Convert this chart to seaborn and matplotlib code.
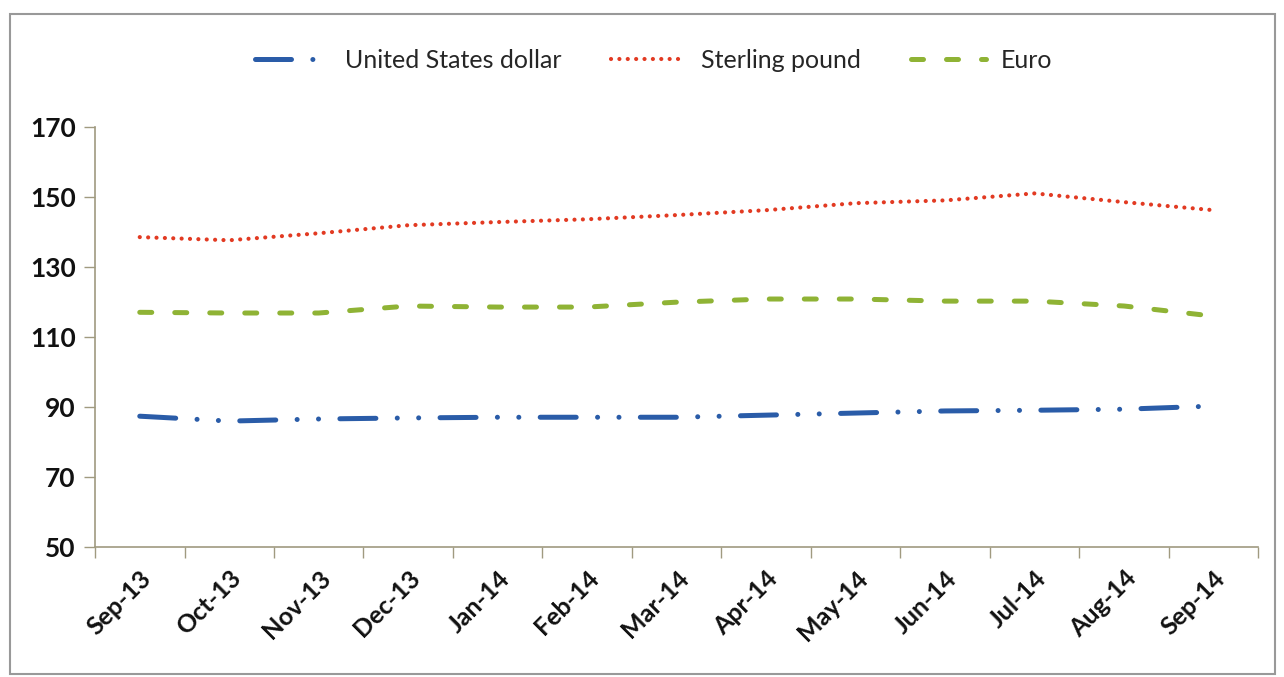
import matplotlib
matplotlib.use("Agg")
import matplotlib.pyplot as plt
import seaborn as sns
import pandas as pd
import numpy as np
from matplotlib.patches import Rectangle

months = ["Sep-13", "Oct-13", "Nov-13", "Dec-13", "Jan-14", "Feb-14", "Mar-14",
          "Apr-14", "May-14", "Jun-14", "Jul-14", "Aug-14", "Sep-14"]
usd = [87.4, 86.0, 86.6, 86.9, 87.1, 87.1, 87.1, 87.7, 88.3, 88.9, 89.1, 89.4, 90.3]
gbp = [138.6, 137.7, 139.7, 142.0, 142.9, 143.7, 144.9, 146.3, 148.3, 149.1, 151.1, 148.6, 146.3]
eur = [117.1, 116.9, 116.9, 118.9, 118.6, 118.6, 120.0, 120.9, 120.9, 120.3, 120.3, 118.9, 116.0]
yticks = [50, 70, 90, 110, 130, 150, 170]

sns.set_theme(style="white")
plt.rcParams['font.family'] = ['Lato', 'DejaVu Sans']

fig = plt.figure(figsize=(12.84, 6.77), dpi=100)
ax = fig.add_axes([0.074, 0.192, 0.906, 0.62])

x = np.arange(len(months))
series = [
    ("United States dollar", usd, "#2a5ca8", 3.6, (0, (7.2, 4.27, 0.01, 4.27, 0.01, 4.27))),
    ("Sterling pound", gbp, "#e23a22", 3.0, (0, (0.01, 2.0))),
    ("Euro", eur, "#8fb335", 3.6, (0, (2.4, 4.6))),
]
for name, vals, col, lw, ls in series:
    df = pd.DataFrame({"x": x, "y": vals})
    sns.lineplot(data=df, x="x", y="y", ax=ax, color=col, lw=lw,
                 label=name, dash_capstyle="round", solid_capstyle="round")
    ax.lines[-1].set_linestyle(ls)

ax.set_xlim(-0.5, 12.5)
ax.set_ylim(50, 170)
ax.set_yticks(yticks)
ax.set_yticklabels([str(v) for v in yticks], fontsize=19, fontweight="bold", color="#111111")
ax.set_xticks(x)
ax.set_xticklabels(months, rotation=45, ha="right", rotation_mode="anchor",
                   fontsize=18, fontweight="bold", color="#111111")
ax.set_xticks(np.arange(-0.5, 13, 1), minor=True)
ax.tick_params(axis="x", which="major", length=0, pad=14)
ax.tick_params(axis="x", which="minor", length=8, width=1, color="#a09a80", direction="out", bottom=True)
ax.tick_params(axis="y", which="major", length=8, width=1, color="#a09a80", direction="out", left=True, pad=6)
ax.set_xlabel("")
ax.set_ylabel("")
for s in ["top", "right"]:
    ax.spines[s].set_visible(False)
for s in ["left", "bottom"]:
    ax.spines[s].set_color("#a09a80")
    ax.spines[s].set_linewidth(1.2)

handles, labels = ax.get_legend_handles_labels()
ax.get_legend().remove()
leg = fig.legend(handles, labels, loc="center", bbox_to_anchor=(0.509, 0.911), ncol=3, frameon=False,
                 fontsize=18, handlelength=3.0, columnspacing=2.0, handletextpad=0.6)

fig.patches.append(Rectangle((0.008, 0.005), 0.985, 0.975, transform=fig.transFigure,
                             fill=False, edgecolor="#999999", lw=1.5))
fig.savefig("out.png", dpi=100)
